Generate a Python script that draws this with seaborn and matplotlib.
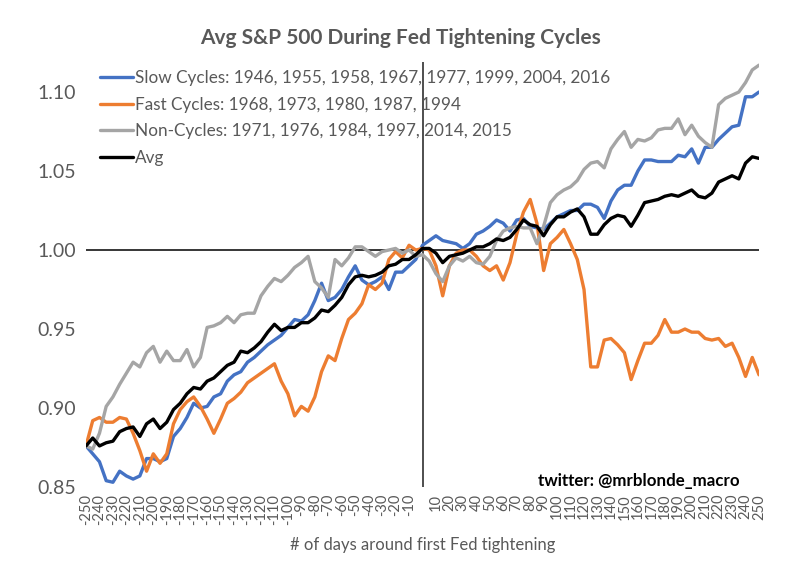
import matplotlib
matplotlib.use("Agg")
import matplotlib.pyplot as plt
import seaborn as sns
import numpy as np

# days around first Fed tightening, sampled every 5 days
days = list(range(-250, 251, 5))

slow_cycles = [
    0.876, 0.871, 0.866, 0.854, 0.853, 0.860, 0.857, 0.855, 0.857, 0.868,
    0.868, 0.866, 0.868, 0.882, 0.887, 0.894, 0.903, 0.900, 0.901, 0.907,
    0.909, 0.917, 0.921, 0.923, 0.929, 0.932, 0.936, 0.940, 0.943, 0.946,
    0.951, 0.956, 0.955, 0.959, 0.968, 0.979, 0.968, 0.970, 0.975, 0.983,
    0.990, 0.981, 0.978, 0.980, 0.983, 0.975, 0.986, 0.986, 0.990, 0.994,
    1.003, 1.006, 1.009, 1.006, 1.005, 1.004, 1.001, 1.004, 1.010, 1.012,
    1.015, 1.019, 1.017, 1.012, 1.019, 1.020, 1.015, 1.014, 1.013, 1.017,
    1.021, 1.023, 1.025, 1.025, 1.029, 1.029, 1.027, 1.020, 1.031, 1.038,
    1.041, 1.041, 1.050, 1.057, 1.057, 1.056, 1.056, 1.056, 1.060, 1.059,
    1.064, 1.055, 1.065, 1.065, 1.070, 1.074, 1.078, 1.079, 1.097, 1.097,
    1.100,
]

fast_cycles = [
    0.876, 0.892, 0.894, 0.891, 0.891, 0.894, 0.893, 0.884, 0.873, 0.860,
    0.871, 0.865, 0.871, 0.890, 0.899, 0.904, 0.907, 0.901, 0.893, 0.884,
    0.893, 0.903, 0.906, 0.910, 0.916, 0.919, 0.922, 0.925, 0.928, 0.917,
    0.909, 0.895, 0.901, 0.898, 0.907, 0.923, 0.933, 0.930, 0.944, 0.956,
    0.960, 0.966, 0.978, 0.975, 0.979, 0.994, 0.999, 0.995, 1.003, 1.000,
    1.001, 1.000, 0.990, 0.971, 0.990, 0.998, 1.000, 1.000, 0.996, 0.990,
    0.987, 0.990, 0.981, 0.992, 1.010, 1.024, 1.032, 1.017, 0.987, 1.004,
    1.008, 1.013, 1.004, 0.994, 0.975, 0.926, 0.926, 0.943, 0.944, 0.940,
    0.935, 0.918, 0.930, 0.941, 0.941, 0.946, 0.956, 0.948, 0.948, 0.950,
    0.948, 0.948, 0.944, 0.943, 0.944, 0.939, 0.941, 0.932, 0.920, 0.932,
    0.921,
]

non_cycles = [
    0.876, 0.874, 0.884, 0.901, 0.907, 0.915, 0.922, 0.929, 0.926, 0.935,
    0.939, 0.929, 0.936, 0.930, 0.930, 0.937, 0.926, 0.932, 0.951, 0.952,
    0.954, 0.958, 0.954, 0.959, 0.960, 0.960, 0.971, 0.977, 0.982, 0.980,
    0.984, 0.989, 0.992, 0.996, 0.980, 0.976, 0.970, 0.994, 0.990, 0.995,
    1.002, 1.002, 0.999, 0.996, 0.999, 1.000, 1.001, 0.998, 1.000, 0.996,
    0.997, 0.993, 0.985, 0.980, 0.990, 0.995, 0.993, 0.996, 0.992, 0.991,
    0.996, 1.006, 1.012, 1.014, 1.015, 1.014, 1.014, 1.004, 1.015, 1.030,
    1.035, 1.038, 1.040, 1.044, 1.051, 1.055, 1.056, 1.052, 1.064, 1.070,
    1.075, 1.065, 1.070, 1.069, 1.071, 1.076, 1.077, 1.077, 1.083, 1.073,
    1.079, 1.072, 1.068, 1.065, 1.092, 1.096, 1.098, 1.100, 1.106, 1.114,
    1.117,
]

avg = [
    0.876, 0.881, 0.876, 0.878, 0.879, 0.885, 0.887, 0.888, 0.882, 0.890,
    0.893, 0.887, 0.891, 0.899, 0.903, 0.909, 0.913, 0.912, 0.917, 0.919,
    0.923, 0.927, 0.929, 0.936, 0.935, 0.938, 0.942, 0.948, 0.953, 0.949,
    0.951, 0.951, 0.954, 0.954, 0.957, 0.962, 0.961, 0.965, 0.970, 0.978,
    0.983, 0.984, 0.983, 0.984, 0.986, 0.990, 0.991, 0.994, 0.994, 0.997,
    1.001, 1.001, 0.998, 0.992, 0.996, 0.997, 0.998, 1.000, 1.002, 1.002,
    1.004, 1.007, 1.006, 1.008, 1.013, 1.019, 1.016, 1.015, 1.009, 1.016,
    1.021, 1.021, 1.024, 1.026, 1.021, 1.010, 1.010, 1.016, 1.020, 1.022,
    1.021, 1.015, 1.022, 1.030, 1.031, 1.032, 1.034, 1.035, 1.034, 1.036,
    1.038, 1.034, 1.033, 1.036, 1.043, 1.045, 1.047, 1.045, 1.055, 1.059,
    1.058,
]

series_labels = [
    "Slow Cycles: 1946, 1955, 1958, 1967, 1977, 1999, 2004, 2016",
    "Fast Cycles: 1968, 1973, 1980, 1987, 1994",
    "Non-Cycles: 1971, 1976, 1984, 1997, 2014, 2015",
    "Avg",
]
series_values = [slow_cycles, fast_cycles, non_cycles, avg]
series_colors = ["#4472C4", "#ED7D31", "#A5A5A5", "#000000"]

y_ticks = [0.85, 0.90, 0.95, 1.00, 1.05, 1.10]
x_ticks = list(range(-250, 251, 10))
x_tick_labels = ["" if d == 0 else str(d) for d in x_ticks]

sns.set_style("white")
plt.rcParams["font.family"] = ["Lato", "DejaVu Sans"]
text_grey = "#595959"

fig = plt.figure(figsize=(8, 5.61), dpi=100)
ax = fig.add_axes([86 / 800, 74 / 561, 673 / 800, 425 / 561])

# axis cross lines (drawn behind the series)
ax.axhline(1.0, color="black", linewidth=1.1, zorder=1)
ax.axvline(0, color="#404040", linewidth=1.3, zorder=1)

for label, values, color in zip(series_labels, series_values, series_colors):
    sns.lineplot(x=days, y=values, color=color, linewidth=2.4,
                 label=label, ax=ax, zorder=3)

ax.set_xlim(-250, 250)
ax.set_ylim(0.85, 1.119)
for spine in ax.spines.values():
    spine.set_visible(False)

ax.set_yticks(y_ticks)
ax.set_yticklabels([f"{v:.2f}" for v in y_ticks], fontsize=14, color=text_grey)
ax.set_xticks(x_ticks)
ax.set_xticklabels(x_tick_labels, rotation=90, fontsize=10.5, color=text_grey)
ax.tick_params(axis="y", length=0, pad=7)
ax.tick_params(axis="x", length=0, pad=5)

ax.set_xlabel("# of days around first Fed tightening", fontsize=12,
              color=text_grey, labelpad=9)
ax.set_ylabel("")

fig.text(0.5, 1 - 38 / 561, "Avg S&P 500 During Fed Tightening Cycles",
         ha="center", va="center", fontsize=15, fontweight="bold", color=text_grey)

ax.text(740 / 800, 1 - 481 / 561, "twitter: @mrblonde_macro", transform=fig.transFigure,
        ha="right", va="center", fontsize=12.2, fontweight="bold", color="black")

ax.legend(loc="upper left", bbox_to_anchor=(100 / 800, 1 - 70 / 561),
          bbox_transform=fig.transFigure, frameon=False, fontsize=12.3,
          handlelength=1.95, handletextpad=0.12, labelspacing=0.62,
          borderpad=0, borderaxespad=0, labelcolor=text_grey)

fig.savefig("out.png", dpi=100, facecolor="white")
